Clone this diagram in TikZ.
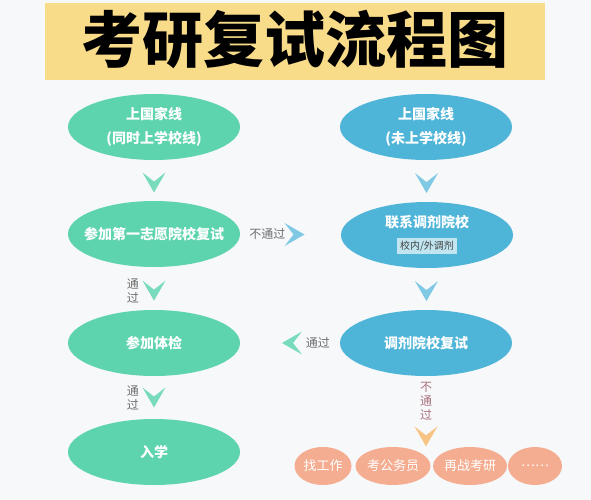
\documentclass[tikz,border=0pt]{standalone}
\usepackage{fontspec}
\newfontfamily\cjk{Noto Sans CJK SC}
\usepackage{tikz}
\usetikzlibrary{shapes.geometric}

\definecolor{paper}{HTML}{F7F8FA}
\definecolor{banner}{HTML}{F9DC8A}
\definecolor{ovalgreen}{HTML}{5DD4AE}
\definecolor{ovalblue}{HTML}{4FB5D8}
\definecolor{ovalorange}{HTML}{F5AD91}
\definecolor{chevgreen}{HTML}{78DBBE}
\definecolor{chevblue}{HTML}{7FC9E4}
\definecolor{chevorange}{HTML}{F8C485}
\definecolor{notegray}{HTML}{6E6E6E}
\definecolor{notemauve}{HTML}{A8727E}

\begin{document}
\begin{tikzpicture}[x=1pt,y=-1pt,
    oval/.style={ellipse,inner sep=0pt,minimum width=172pt,minimum height=66pt,
      text=white,align=center,font=\cjk\bfseries\fontsize{14}{24}\selectfont},
    small oval/.style={ellipse,inner sep=0pt,minimum height=38pt,fill=ovalorange,
      text=white,font=\cjk\fontsize{13}{15}\selectfont},
    note/.style={inner sep=1pt,align=center,text=notegray,font=\cjk\fontsize{12}{14}\selectfont},
    chev/.pic={\fill[#1] (-11.5,-10) -- (0,-1) -- (11.5,-10) -- (0,10) -- cycle;}]
  \useasboundingbox[fill=paper] (0,0) rectangle (591,500);
  \fill[banner] (45,3) rectangle (545,80);
  \node[font=\cjk\bfseries\fontsize{61}{61}\selectfont,inner sep=0pt] (title) at (295,40) {考研复试流程图};

  % left column
  \node[oval,fill=ovalgreen] (g1) at (154,127) {上国家线\\(同时上学校线)};
  \node[oval,fill=ovalgreen,inner xsep=-20pt] (g2) at (154,234) {参加第一志愿院校复试};
  \node[oval,fill=ovalgreen] (g3) at (154,343) {参加体检};
  \node[oval,fill=ovalgreen] (g4) at (154,452) {入学};

  % right column
  \node[oval,fill=ovalblue] (b1) at (426,127) {上国家线\\(未上学校线)};
  \node[oval,fill=ovalblue,inner ysep=-4pt] (b2) at (427,235) {联系调剂院校\\[-2pt]
    {\mdseries\fontsize{10}{12}\selectfont\colorbox{ovalblue!35!white}{\color{black!75}校内/外调剂}}};
  \node[oval,fill=ovalblue] (b3) at (426,343) {调剂院校复试};

  % what else
  \node[small oval,minimum width=57pt] (o1) at (323,466) {找工作};
  \node[small oval,minimum width=75pt] (o2) at (393,466) {考公务员};
  \node[small oval,minimum width=74pt] (o3) at (470,466) {再战考研};
  \node[small oval,minimum width=54pt] (o4) at (535,466) {……};
  \coordinate (out) at (426,447);

  \path (g1) -- (g2) pic[pos=0.55]{chev=chevgreen};
  \path (g2) -- (g3) pic[pos=0.55]{chev=chevgreen} node[note,pos=0.55,left=14pt] {通\\过};
  \path (g3) -- (g4) pic[pos=0.5]{chev=chevgreen} node[note,pos=0.5,left=14pt] {通\\过};
  \path (b1) -- (b2) pic[pos=0.55]{chev=chevblue};
  \path (b2) -- (b3) pic[pos=0.55]{chev=chevblue};
  \path (g2) -- (b2) node[note,pos=0.27] {不通过} pic[pos=0.54,rotate=90]{chev=chevblue};
  \path (b3) -- (g3) node[note,pos=0.22] {通过} pic[pos=0.48,rotate=-90]{chev=chevgreen};
  \path (b3) -- (out) node[note,text=notemauve,pos=0.36] {不\\通\\过} pic[pos=0.85]{chev=chevorange};
\end{tikzpicture}
\end{document}
